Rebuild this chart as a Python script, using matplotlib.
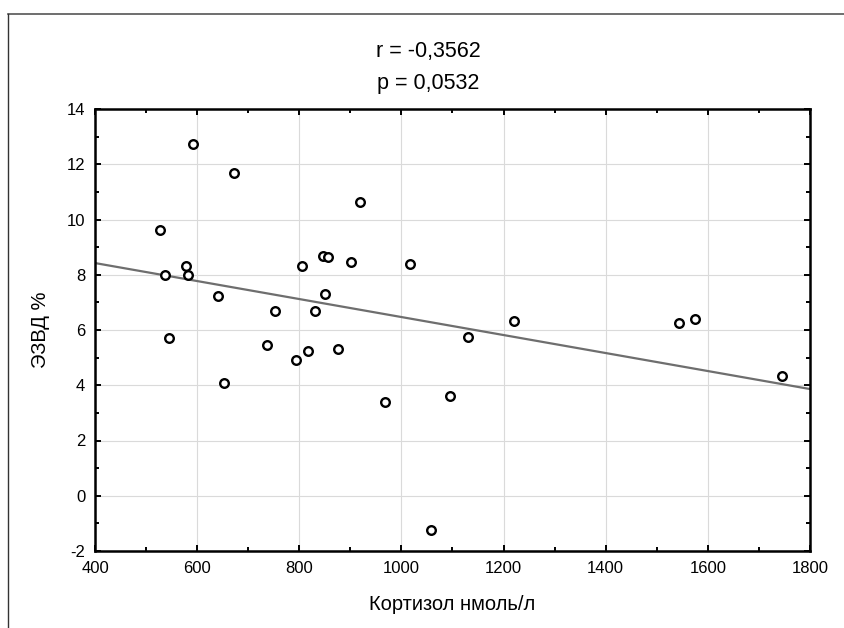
"""Scatter of cortisol vs EZVD % with linear fit (Statistica-style)."""

import matplotlib
matplotlib.use("Agg")
import matplotlib.pyplot as plt
import numpy as np
from matplotlib.lines import Line2D
from matplotlib.ticker import MultipleLocator

plt.rcParams["font.family"] = ["Liberation Sans", "DejaVu Sans"]
plt.rcParams["axes.unicode_minus"] = False

cortisol = [591, 673, 918, 528, 578, 537, 582, 640, 753, 831,
            805, 846, 856, 901, 851, 1017, 545, 736, 794, 818,
            876, 652, 967, 1095, 1058, 1131, 1220, 1543, 1575, 1746]
ezvd = [12.72, 11.70, 10.62, 9.61, 8.33, 8.00, 8.00, 7.23, 6.70, 6.70,
        8.32, 8.69, 8.63, 8.46, 7.32, 8.40, 5.70, 5.46, 4.93, 5.24,
        5.31, 4.07, 3.40, 3.61, -1.24, 5.76, 6.31, 6.24, 6.40, 4.32]

title_lines = ["r = -0,3562", "p = 0,0532"]
x_label = "Кортизол нмоль/л"
y_label = "ЭЗВД %"

W, H = 845, 628
fig = plt.figure(figsize=(W / 100, H / 100), dpi=100)
ax = fig.add_axes([95 / W, 1 - 551 / H, (810 - 95) / W, (551 - 109) / H])

ax.grid(True, which="major", color="#dadada", linewidth=0.8, zorder=0)

slope, intercept = np.polyfit(cortisol, ezvd, 1)
xs = np.array([400, 1800])
ax.plot(xs, intercept + slope * xs, color="#6e6e6e", linewidth=1.6, zorder=2)

ax.plot(cortisol, ezvd, linestyle="none", marker="o", markersize=6.2,
        markerfacecolor="white", markeredgecolor="black", markeredgewidth=1.7,
        zorder=3)

ax.set_xlim(400, 1800)
ax.set_ylim(-2, 14)
ax.xaxis.set_major_locator(MultipleLocator(200))
ax.xaxis.set_minor_locator(MultipleLocator(100))
ax.yaxis.set_major_locator(MultipleLocator(2))
ax.yaxis.set_minor_locator(MultipleLocator(1))
ax.tick_params(which="both", direction="in", top=True, right=True,
               width=1.4, labelsize=12, colors="black")
ax.tick_params(which="major", length=4, pad=7)
ax.tick_params(which="minor", length=3)
for spine in ax.spines.values():
    spine.set_linewidth(1.8)
    spine.set_color("black")

ax.set_xlabel(x_label, fontsize=14.5, labelpad=14)
ax.set_ylabel(y_label, fontsize=14.5, labelpad=12)

fig.text(428 / W, 1 - 52 / H, title_lines[0], ha="center", va="center", fontsize=15.5)
fig.text(428 / W, 1 - 83 / H, title_lines[1], ha="center", va="center", fontsize=15.5)

# outer frame (cut off on the right and bottom)
fig.add_artist(Line2D([8 / W, 1], [1 - 14 / H, 1 - 14 / H], color="#555555", linewidth=1.2))
fig.add_artist(Line2D([8 / W, 8 / W], [0, 1 - 14 / H], color="#333333", linewidth=1.0))

fig.savefig("out.png", dpi=100, facecolor="white")
